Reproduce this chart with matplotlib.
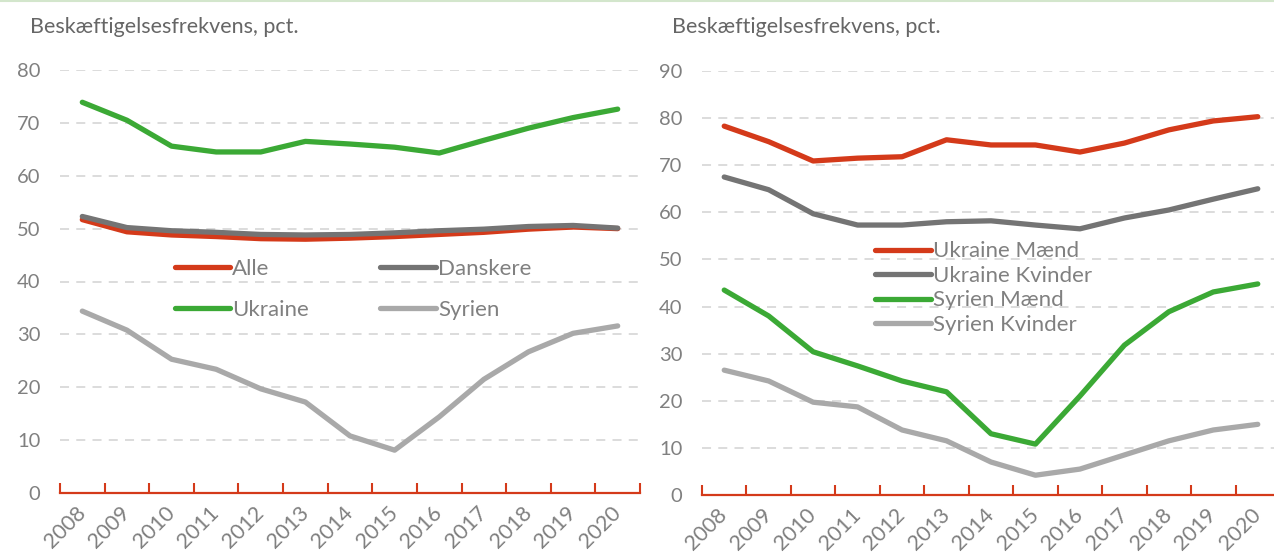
import matplotlib
matplotlib.use("Agg")
import matplotlib.pyplot as plt
from matplotlib.lines import Line2D
import numpy as np

# Data
years = ["2008", "2009", "2010", "2011", "2012", "2013", "2014",
         "2015", "2016", "2017", "2018", "2019", "2020"]

alle = [51.7, 49.4, 48.8, 48.5, 48.1, 48.0, 48.2, 48.5, 48.9, 49.3, 49.9, 50.3, 50.0]
danskere = [52.3, 50.2, 49.6, 49.3, 48.9, 48.8, 48.9, 49.2, 49.6, 49.9, 50.4, 50.6, 50.1]
ukraine = [73.9, 70.5, 65.6, 64.5, 64.5, 66.5, 66.0, 65.4, 64.3, 66.7, 69.0, 71.0, 72.6]
syrien = [34.4, 30.8, 25.3, 23.4, 19.7, 17.2, 10.8, 8.1, 14.4, 21.5, 26.7, 30.2, 31.6]

ukr_maend = [78.3, 75.0, 70.9, 71.5, 71.8, 75.4, 74.3, 74.3, 72.8, 74.7, 77.5, 79.4, 80.3]
ukr_kvinder = [67.5, 64.8, 59.7, 57.3, 57.3, 58.0, 58.2, 57.3, 56.5, 58.8, 60.5, 62.8, 65.0]
syr_maend = [43.5, 38.0, 30.4, 27.4, 24.2, 21.9, 13.0, 10.8, 21.0, 31.8, 38.9, 43.1, 44.8]
syr_kvinder = [26.5, 24.2, 19.7, 18.7, 13.8, 11.5, 7.0, 4.2, 5.5, 8.5, 11.5, 13.8, 15.0]

RED = '#d43a1a'
DGREY = '#747474'
GREEN = '#3ba935'
LGREY = '#a9a9a9'
TXT = '#808080'

plt.rcParams['font.family'] = ['Lato', 'DejaVu Sans']

W, H = 1274, 560
fig = plt.figure(figsize=(W / 100, H / 100), dpi=100)

# tynd grøn kant øverst
fig.add_artist(Line2D([0, 1], [0.998, 0.998], color='#d3e6cc', lw=1.5, transform=fig.transFigure))


def style_axes(ax, ymax):
    x = np.arange(len(years))
    ax.set_xlim(-0.5, len(years) - 0.5)
    ax.set_ylim(0, ymax)
    ax.set_yticks(np.arange(0, ymax + 1, 10))
    ax.yaxis.grid(True, color='#d9d9d9', linestyle=(0, (5, 4)), linewidth=1.3)
    ax.set_axisbelow(True)
    for s in ['top', 'right', 'left']:
        ax.spines[s].set_visible(False)
    ax.spines['bottom'].set_color(RED)
    ax.spines['bottom'].set_linewidth(1.6)
    ax.spines['bottom'].set_zorder(5)
    # tick marks mellem kategorierne
    ax.set_xticks(np.arange(-0.5, len(years), 1.0))
    ax.set_xticklabels([])
    ax.tick_params(axis='x', which='major', direction='in', length=7, width=1.5, color=RED)
    ax.set_xticks(x, minor=True)
    ax.set_xticklabels(years, minor=True, rotation=45, ha='right', va='center',
                       rotation_mode='anchor', fontsize=15.5, color=TXT)
    ax.tick_params(axis='x', which='minor', length=0, pad=12)
    ax.tick_params(axis='y', length=0, labelsize=14.5, labelcolor=TXT, pad=14)


# Venstre figur
ax1 = fig.add_axes([60 / W, 67 / H, 580 / W, 423 / H])
x = np.arange(len(years))
ax1.plot(x, alle, color=RED, lw=3.8, label='Alle', solid_capstyle='round')
ax1.plot(x, danskere, color=DGREY, lw=3.8, label='Danskere', solid_capstyle='round')
ax1.plot(x, ukraine, color=GREEN, lw=3.8, label='Ukraine', solid_capstyle='round')
ax1.plot(x, syrien, color=LGREY, lw=3.8, label='Syrien', solid_capstyle='round')
style_axes(ax1, 80)
h, l = ax1.get_legend_handles_labels()
# rækkefølge: Alle, Danskere / Ukraine, Syrien (ncol=2 fylder kolonnevis)
order = [0, 2, 1, 3]
leg1 = ax1.legend([h[i] for i in order], [l[i] for i in order], ncol=2, frameon=False,
                  loc='center', bbox_to_anchor=(0.505, 0.482), fontsize=16,
                  handlelength=2.5, handletextpad=0.1, columnspacing=3.2,
                  labelspacing=0.95, borderpad=0)
for t in leg1.get_texts():
    t.set_color(TXT)
fig.text(30 / W, 1 - 27 / H, 'Beskæftigelsesfrekvens, pct.', fontsize=15.5,
         color='#666666', va='center', ha='left')

# Højre figur
ax2 = fig.add_axes([702 / W, 65 / H, 578 / W, 424 / H])
ax2.plot(x, ukr_maend, color=RED, lw=3.8, label='Ukraine Mænd', solid_capstyle='round')
ax2.plot(x, ukr_kvinder, color=DGREY, lw=3.8, label='Ukraine Kvinder', solid_capstyle='round')
ax2.plot(x, syr_maend, color=GREEN, lw=3.8, label='Syrien Mænd', solid_capstyle='round')
ax2.plot(x, syr_kvinder, color=LGREY, lw=3.8, label='Syrien Kvinder', solid_capstyle='round')
style_axes(ax2, 90)
leg2 = ax2.legend(frameon=False, loc='center', bbox_to_anchor=(0.487, 0.488), fontsize=16,
                  handlelength=2.5, handletextpad=0.1, labelspacing=0.2, borderpad=0)
for t in leg2.get_texts():
    t.set_color(TXT)
fig.text(672 / W, 1 - 27 / H, 'Beskæftigelsesfrekvens, pct.', fontsize=15.5,
         color='#666666', va='center', ha='left')

fig.savefig('out.png', dpi=100)
